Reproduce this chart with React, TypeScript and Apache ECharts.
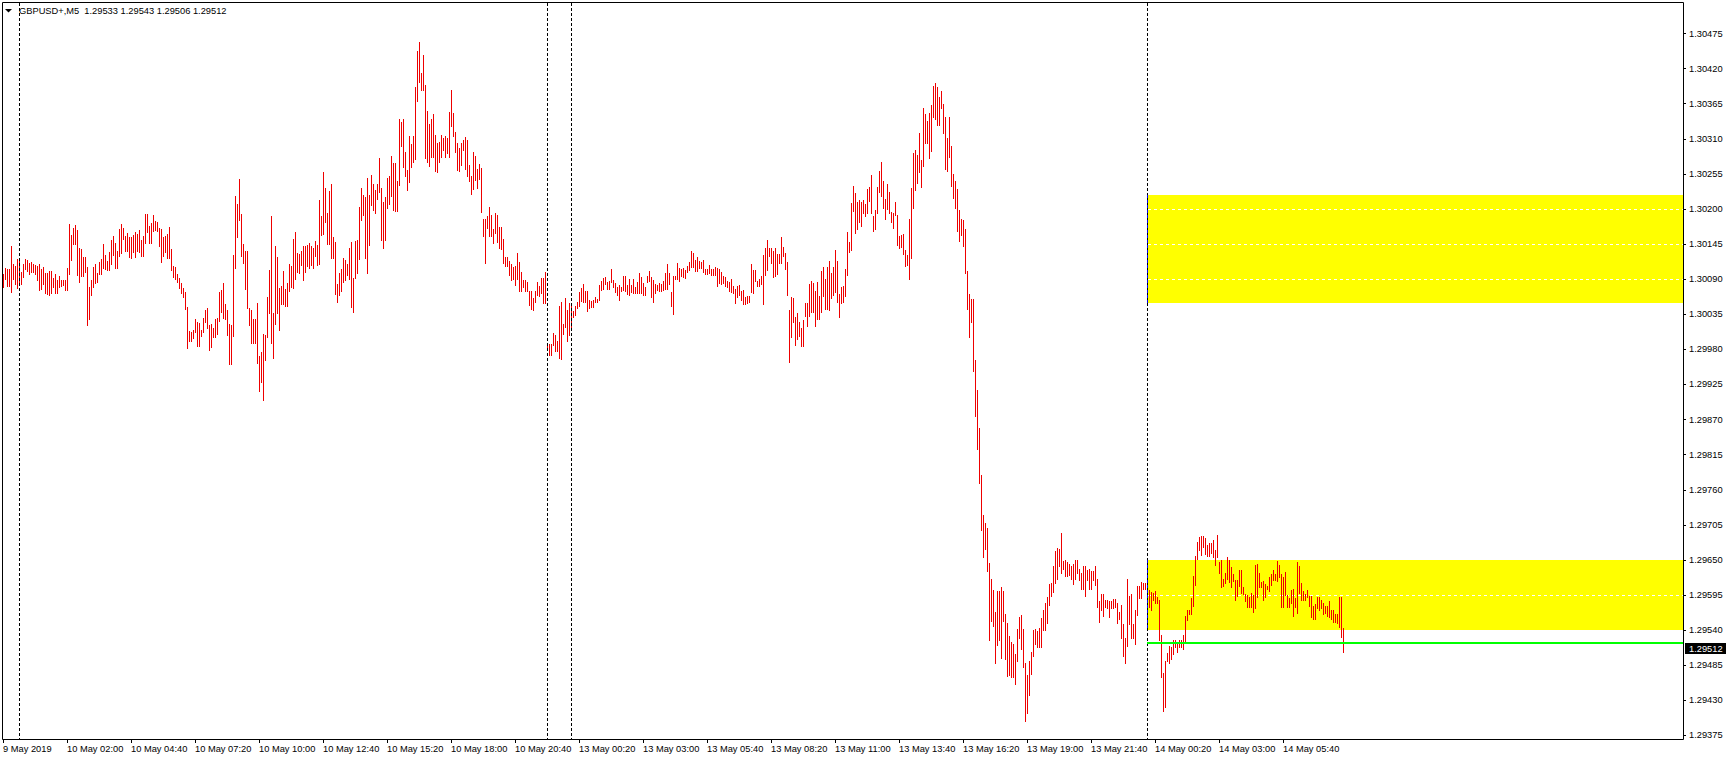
import React, { useEffect, useRef } from "react";
import * as echarts from "echarts";

// ---- chart meta ----
const symbolTitle = "GBPUSD+,M5";
const lastBarOHLC = [1.29533, 1.29543, 1.29506, 1.29512];
const bidPrice = 1.29512;
const greenLevel = 1.2952;
// zones: [startBar, top price, bottom price]
const zoneStartBar = 572;
const upperZone = [1.30222, 1.30052];
const lowerZone = [1.2965, 1.29541];
// daily period separators (bar index)
const separatorBars = [8, 272, 284, 572];

const priceTicks = [
  1.29375, 1.2943, 1.29485, 1.2954, 1.29595, 1.2965, 1.29705, 1.2976, 1.29815, 1.2987, 1.29925,
  1.2998, 1.30035, 1.3009, 1.30145, 1.302, 1.30255, 1.3031, 1.30365, 1.3042, 1.30475,
];
const timeTickBars = [0, 32, 64, 96, 128, 160, 192, 224, 256, 288, 320, 352, 384, 416, 448, 480, 512, 544, 576, 608, 640];
const timeTickLabels = [
  "9 May 2019", "10 May 02:00", "10 May 04:40", "10 May 07:20", "10 May 10:00", "10 May 12:40",
  "10 May 15:20", "10 May 18:00", "10 May 20:40", "13 May 00:20", "13 May 03:00", "13 May 05:40",
  "13 May 08:20", "13 May 11:00", "13 May 13:40", "13 May 16:20", "13 May 19:00", "13 May 21:40",
  "14 May 00:20", "14 May 03:00", "14 May 05:40",
];

// ---- M5 bars: highs / lows per trading day ----
const high9 = [1.30098, 1.30108, 1.30106, 1.30106, 1.30142, 1.30114, 1.3011, 1.30121];
const low9 = [1.30078, 1.3009, 1.3008, 1.3008, 1.3007, 1.30091, 1.30082, 1.30076];

const high10 = [
  1.30121, 1.30101, 1.30114, 1.30121, 1.3012, 1.30115, 1.30117, 1.30114, 1.30112, 1.3011,
  1.30114, 1.30106, 1.30109, 1.301, 1.301, 1.30103, 1.30103, 1.30092, 1.30098, 1.30089,
  1.30095, 1.30089, 1.30089, 1.30089, 1.30107, 1.30176, 1.30159, 1.3017, 1.30175, 1.30167,
  1.30139, 1.30137, 1.30125, 1.30125, 1.30109, 1.30078, 1.30089, 1.30109, 1.30114, 1.301,
  1.30117, 1.30121, 1.30145, 1.30128, 1.30118, 1.30133, 1.30151, 1.30158, 1.30147, 1.30134,
  1.30169, 1.30176, 1.3017, 1.30158, 1.30162, 1.30156, 1.30156, 1.30159, 1.30164, 1.30161,
  1.30167, 1.30151, 1.30158, 1.30192, 1.30192, 1.30173, 1.30178, 1.3019, 1.30181, 1.30179,
  1.3017, 1.30169, 1.30156, 1.30158, 1.30161, 1.30172, 1.30137, 1.3011, 1.30109, 1.30098,
  1.30092, 1.30084, 1.30076, 1.3007, 1.30046, 1.30009, 1.30008, 1.3001, 1.30028, 1.30023,
  1.30021, 1.3001, 1.30029, 1.30042, 1.30045, 1.30018, 1.3002, 1.30014, 1.30028, 1.30029,
  1.3007, 1.30073, 1.30084, 1.30051, 1.30042, 1.3002, 1.30019, 1.30128, 1.3022, 1.30208,
  1.30247, 1.30192, 1.30145, 1.30134, 1.30134, 1.30045, 1.30042, 1.30028, 1.30028, 1.30053,
  1.2997, 1.29976, 1.30004, 1.30003, 1.30062, 1.30104, 1.30189, 1.30037, 1.30142, 1.30125,
  1.30076, 1.30079, 1.30103, 1.30075, 1.30084, 1.30114, 1.3011, 1.30153, 1.30164, 1.30131,
  1.30129, 1.30134, 1.30142, 1.30142, 1.30144, 1.30147, 1.30142, 1.30139, 1.3015, 1.30144,
  1.30214, 1.30189, 1.30258, 1.30233, 1.30194, 1.30228, 1.30239, 1.30156, 1.30148, 1.30083,
  1.301, 1.30106, 1.30123, 1.3012, 1.30114, 1.30139, 1.30148, 1.30092, 1.3015, 1.30151,
  1.30203, 1.30233, 1.30222, 1.30219, 1.30249, 1.30222, 1.30253, 1.30239, 1.3023, 1.30239,
  1.3028, 1.30233, 1.30211, 1.30219, 1.30249, 1.30252, 1.30283, 1.30272, 1.30272, 1.30244,
  1.30341, 1.30336, 1.30341, 1.30289, 1.30261, 1.30314, 1.30302, 1.30314, 1.30391, 1.30447,
  1.30461, 1.30413, 1.30441, 1.30394, 1.30353, 1.30333, 1.30341, 1.30349, 1.30316, 1.30303,
  1.30305, 1.30316, 1.30311, 1.30314, 1.30311, 1.30352, 1.30386, 1.3035, 1.3032, 1.30303,
  1.30295, 1.30303, 1.30308, 1.30313, 1.30308, 1.30269, 1.30252, 1.30289, 1.30283, 1.30263,
  1.30271, 1.30265, 1.30184, 1.30184, 1.30189, 1.30203, 1.30191, 1.30169, 1.30194, 1.30191,
  1.30172, 1.30172, 1.30153, 1.30125, 1.30125, 1.30119, 1.30114, 1.30109, 1.30111, 1.30131,
  1.30117, 1.30101, 1.30089, 1.30089, 1.30085, 1.30071, 1.30071, 1.3006, 1.30072, 1.30085,
  1.3008, 1.30092, 1.30092, 1.30102,
];
const low10 = [
  1.30083, 1.30082, 1.30093, 1.30106, 1.30103, 1.30098, 1.30101, 1.30101, 1.30098, 1.30088,
  1.30073, 1.30075, 1.30082, 1.30069, 1.30067, 1.30066, 1.30069, 1.30078, 1.30069, 1.30069,
  1.30077, 1.3008, 1.30081, 1.30073, 1.30073, 1.30098, 1.3012, 1.30145, 1.30145, 1.30097,
  1.30086, 1.30095, 1.30095, 1.30102, 1.30019, 1.30027, 1.30066, 1.30077, 1.30084, 1.30086,
  1.30098, 1.30098, 1.30107, 1.30106, 1.30104, 1.30104, 1.30114, 1.30128, 1.30108, 1.30108,
  1.30126, 1.30131, 1.30153, 1.30134, 1.30134, 1.30125, 1.30123, 1.30133, 1.30125, 1.30134,
  1.30133, 1.30126, 1.30126, 1.30147, 1.30164, 1.30147, 1.30147, 1.30165, 1.30167, 1.30165,
  1.30142, 1.30117, 1.30126, 1.30133, 1.30123, 1.30123, 1.30104, 1.30093, 1.3009, 1.30086,
  1.30076, 1.30069, 1.30062, 1.30043, 1.29982, 1.29993, 1.29993, 1.29998, 1.30007, 1.29986,
  1.29986, 1.30001, 1.30007, 1.30023, 1.30014, 1.29979, 1.29984, 1.29999, 1.29999, 1.30004,
  1.30024, 1.30039, 1.30029, 1.30028, 1.30003, 1.29957, 1.29957, 1.30001, 1.30107, 1.30156,
  1.30183, 1.30126, 1.30116, 1.30075, 1.30045, 1.30018, 1.2999, 1.2999, 1.2999, 1.29959,
  1.29915, 1.29929, 1.29901, 1.29963, 1.29999, 1.30037, 1.2999, 1.29967, 1.3002, 1.30037,
  1.3001, 1.30051, 1.30051, 1.30048, 1.30048, 1.30071, 1.30078, 1.30076, 1.3009, 1.30101,
  1.30099, 1.30113, 1.30089, 1.30101, 1.3011, 1.30108, 1.30113, 1.30108, 1.30127, 1.30113,
  1.30114, 1.30159, 1.30161, 1.3018, 1.30145, 1.30145, 1.30124, 1.30124, 1.30067, 1.30055,
  1.30066, 1.30072, 1.30086, 1.30088, 1.30097, 1.30091, 1.30047, 1.30039, 1.30092, 1.30099,
  1.30121, 1.30182, 1.3019, 1.30124, 1.30099, 1.30144, 1.30207, 1.30199, 1.30194, 1.30216,
  1.30227, 1.30152, 1.30139, 1.30152, 1.30202, 1.30208, 1.30221, 1.30199, 1.30197, 1.30197,
  1.30238, 1.30299, 1.30266, 1.30252, 1.3023, 1.30243, 1.30266, 1.30274, 1.30279, 1.3037,
  1.30399, 1.30387, 1.30387, 1.3028, 1.30274, 1.30268, 1.30282, 1.30282, 1.3026, 1.30258,
  1.30273, 1.30282, 1.30293, 1.30282, 1.30287, 1.30282, 1.3033, 1.30315, 1.3029, 1.30261,
  1.3026, 1.30269, 1.30293, 1.30263, 1.30251, 1.30244, 1.30224, 1.30232, 1.30246, 1.30233,
  1.30247, 1.30196, 1.30157, 1.30116, 1.30171, 1.30157, 1.30157, 1.30147, 1.30163, 1.30149,
  1.30139, 1.30138, 1.30116, 1.3011, 1.30111, 1.30097, 1.30089, 1.30091, 1.30081, 1.30091,
  1.30072, 1.30072, 1.30078, 1.30072, 1.30072, 1.3005, 1.30044, 1.30042, 1.30055, 1.30066,
  1.30063, 1.30069, 1.30052, 1.30052,
];

const high12 = [1.2999, 1.29988, 1.29988, 1.30006, 1.30002, 1.29993, 1.30048, 1.30054, 1.3002, 1.3006, 1.30042, 1.30053];
const low12 = [1.29982, 1.29971, 1.29971, 1.29987, 1.29977, 1.29977, 1.29966, 1.29965, 1.30004, 1.30015, 1.29993, 1.30002];

const high13 = [
  1.30048, 1.3004, 1.30048, 1.30054, 1.3007, 1.30076, 1.30082, 1.30071, 1.30071, 1.30057,
  1.30056, 1.30057, 1.30062, 1.30059, 1.30081, 1.30087, 1.30092, 1.30093, 1.30085, 1.30087,
  1.30106, 1.30089, 1.30084, 1.30077, 1.30081, 1.30077, 1.30095, 1.30095, 1.30081, 1.3009,
  1.30081, 1.3009, 1.30077, 1.30085, 1.301, 1.30093, 1.30084, 1.30077, 1.30095, 1.30103,
  1.30093, 1.30089, 1.30082, 1.30081, 1.30084, 1.30082, 1.30087, 1.301, 1.30114, 1.301,
  1.3007, 1.30095, 1.30095, 1.30115, 1.30107, 1.30106, 1.30107, 1.30104, 1.3011, 1.30117,
  1.30134, 1.30131, 1.3012, 1.30125, 1.30118, 1.30117, 1.3012, 1.30106, 1.30106, 1.30112,
  1.30106, 1.30106, 1.30109, 1.30107, 1.30106, 1.30101, 1.30095, 1.30093, 1.30087, 1.30085,
  1.3009, 1.30079, 1.30074, 1.30079, 1.30081, 1.30071, 1.30073, 1.30062, 1.30063, 1.30063,
  1.30114, 1.30104, 1.30104, 1.30087, 1.3009, 1.30095, 1.30128, 1.30139, 1.30151, 1.30139,
  1.30139, 1.30134, 1.30139, 1.30129, 1.30129, 1.30156, 1.3014, 1.30131, 1.30117, 1.30041,
  1.30062, 1.3006, 1.30031, 1.30037, 1.30023, 1.30013, 1.30026, 1.30053, 1.30053, 1.30082,
  1.30087, 1.30084, 1.30072, 1.30086, 1.30064, 1.30103, 1.30109, 1.3009, 1.30109, 1.30118,
  1.301, 1.30109, 1.30136, 1.30118, 1.30067, 1.30078, 1.30079, 1.30106, 1.30164, 1.30148,
  1.30209, 1.30236, 1.30225, 1.30211, 1.30214, 1.30211, 1.30214, 1.30208, 1.30231, 1.30234,
  1.30253, 1.30189, 1.30199, 1.30234, 1.30259, 1.30274, 1.30244, 1.30216, 1.30239, 1.30227,
  1.30195, 1.30194, 1.30211, 1.30191, 1.30158, 1.3016, 1.30161, 1.30135, 1.30128, 1.30185,
  1.30233, 1.30288, 1.30292, 1.30284, 1.30319, 1.30277, 1.30358, 1.30349, 1.30338, 1.3035,
  1.30363, 1.30392, 1.30397, 1.30391, 1.30375, 1.30385, 1.30364, 1.30344, 1.30311, 1.30344,
  1.30299, 1.30255, 1.30244, 1.30231, 1.30198, 1.30185, 1.30183, 1.30168, 1.30103, 1.30067,
  1.30059, 1.30059, 1.29964, 1.29916, 1.29857, 1.29783, 1.2972, 1.29708, 1.297, 1.29645,
  1.2962, 1.29603, 1.29569, 1.29601, 1.29601, 1.29608, 1.29601, 1.29565, 1.29551, 1.29531,
  1.29521, 1.29519, 1.29503, 1.29542, 1.29561, 1.29564, 1.29542, 1.29489, 1.2947, 1.29491,
  1.29506, 1.2954, 1.29542, 1.29539, 1.29543, 1.29559, 1.29572, 1.29583, 1.29592, 1.29612,
  1.29614, 1.29641, 1.29664, 1.29669, 1.29667, 1.29692, 1.29649, 1.2965, 1.29647, 1.29643,
  1.29641, 1.29643, 1.2965, 1.2965, 1.29636, 1.29629, 1.2964, 1.2964, 1.29635, 1.29636,
  1.29632, 1.29632, 1.2964, 1.29621, 1.29586, 1.29596, 1.29597, 1.29588, 1.29588, 1.29586,
  1.29585, 1.29589, 1.29589, 1.29582, 1.29569, 1.2958, 1.2955, 1.29528, 1.29621, 1.29594,
  1.29596, 1.29549, 1.29571, 1.2961, 1.2961, 1.29616, 1.29614, 1.29614,
];
const low13 = [
  1.3001, 1.30031, 1.30034, 1.30045, 1.30048, 1.30056, 1.30054, 1.30054, 1.3004, 1.30045,
  1.30046, 1.30046, 1.30054, 1.30054, 1.30057, 1.30073, 1.30074, 1.30082, 1.30074, 1.30074,
  1.30085, 1.30078, 1.3007, 1.30065, 1.30057, 1.30071, 1.30073, 1.30071, 1.30067, 1.30065,
  1.3007, 1.30068, 1.30068, 1.30068, 1.30068, 1.30068, 1.30065, 1.30065, 1.30085, 1.30087,
  1.30062, 1.30054, 1.30068, 1.30073, 1.30071, 1.30071, 1.30073, 1.30074, 1.30074, 1.30082,
  1.30048, 1.30035, 1.3009, 1.3009, 1.30087, 1.30095, 1.30093, 1.30092, 1.30101, 1.30104,
  1.30109, 1.30109, 1.30103, 1.30103, 1.30107, 1.30107, 1.30101, 1.30098, 1.30098, 1.30099,
  1.30096, 1.30096, 1.30096, 1.30079, 1.30084, 1.30082, 1.30084, 1.30079, 1.30077, 1.30071,
  1.3007, 1.30068, 1.30053, 1.30062, 1.30066, 1.30057, 1.30051, 1.30051, 1.30053, 1.30054,
  1.3007, 1.30068, 1.30087, 1.30079, 1.30079, 1.30082, 1.30051, 1.30096, 1.30104, 1.30126,
  1.30115, 1.30093, 1.30095, 1.30098, 1.30115, 1.30115, 1.30126, 1.30106, 1.30066, 1.2996,
  1.29999, 1.30023, 1.29987, 1.29996, 1.30001, 1.29985, 1.29985, 1.30032, 1.30017, 1.30033,
  1.30038, 1.30039, 1.30017, 1.30027, 1.30027, 1.30038, 1.30063, 1.30044, 1.30044, 1.30042,
  1.30061, 1.30066, 1.3007, 1.30055, 1.30031, 1.30052, 1.30055, 1.30064, 1.30097, 1.30133,
  1.30135, 1.30197, 1.30163, 1.30168, 1.3018, 1.30174, 1.30194, 1.30189, 1.30193, 1.30213,
  1.30193, 1.30166, 1.30169, 1.30194, 1.30227, 1.30221, 1.30202, 1.30185, 1.302, 1.30193,
  1.3018, 1.30171, 1.30191, 1.30144, 1.30139, 1.30141, 1.3013, 1.3011, 1.30113, 1.30091,
  1.30124, 1.30202, 1.3023, 1.30241, 1.30258, 1.30235, 1.30268, 1.30304, 1.30304, 1.3028,
  1.30291, 1.30344, 1.30341, 1.30332, 1.30332, 1.30359, 1.30319, 1.30263, 1.3026, 1.30282,
  1.30236, 1.30218, 1.30202, 1.30166, 1.3015, 1.3016, 1.30142, 1.30099, 1.30044, 1.3,
  1.30023, 1.29946, 1.29875, 1.29824, 1.2977, 1.29697, 1.29654, 1.29668, 1.29633, 1.29524,
  1.29555, 1.29547, 1.29489, 1.29517, 1.29525, 1.29497, 1.29554, 1.29495, 1.29469, 1.2947,
  1.29467, 1.29467, 1.29455, 1.29491, 1.29527, 1.29511, 1.29483, 1.29398, 1.29411, 1.29439,
  1.29472, 1.29499, 1.29519, 1.29513, 1.29514, 1.29514, 1.2954, 1.2954, 1.29551, 1.29579,
  1.29594, 1.296, 1.29614, 1.29621, 1.2964, 1.2963, 1.29636, 1.29625, 1.29625, 1.29627,
  1.29621, 1.29613, 1.29621, 1.2963, 1.29619, 1.29605, 1.29605, 1.29594, 1.29618, 1.29605,
  1.29605, 1.29618, 1.29611, 1.29577, 1.29553, 1.29571, 1.29563, 1.29577, 1.29575, 1.29561,
  1.29575, 1.29575, 1.29577, 1.29552, 1.29557, 1.29528, 1.295, 1.29489, 1.29516, 1.2955,
  1.29528, 1.29527, 1.29519, 1.29564, 1.29591, 1.29591, 1.29605, 1.29604,
];

const high14 = [
  1.29602, 1.29603, 1.296, 1.29599, 1.29601, 1.29592, 1.29588, 1.29533, 1.29473, 1.29492,
  1.29505, 1.29516, 1.29513, 1.29524, 1.29524, 1.29522, 1.29524, 1.29524, 1.29532, 1.29562,
  1.29572, 1.29571, 1.29591, 1.29625, 1.29656, 1.29678, 1.29686, 1.29687, 1.29687, 1.29685,
  1.29673, 1.29676, 1.29676, 1.29681, 1.29666, 1.29689, 1.29647, 1.2965, 1.29621, 1.2963,
  1.29654, 1.2965, 1.29639, 1.29628, 1.29618, 1.29618, 1.29634, 1.29634, 1.29608, 1.29597,
  1.29595, 1.29592, 1.29598, 1.29595, 1.29642, 1.29644, 1.29629, 1.29616, 1.29617, 1.29613,
  1.29609, 1.29624, 1.29628, 1.29634, 1.29628, 1.29648, 1.29642, 1.29628, 1.29624, 1.29631,
  1.29595, 1.2959, 1.29603, 1.29605, 1.2959, 1.29647, 1.2964, 1.29614, 1.29602, 1.29597,
  1.29603, 1.29593, 1.29593, 1.29578, 1.29581, 1.29592, 1.29592, 1.29587, 1.29583, 1.29578,
  1.29578, 1.29585, 1.29571, 1.29572, 1.29566, 1.29565, 1.29592, 1.29592, 1.29543,
];
const low14 = [
  1.29586, 1.29577, 1.29571, 1.29587, 1.29582, 1.29582, 1.29524, 1.29467, 1.29414, 1.2942,
  1.29491, 1.29489, 1.29495, 1.29502, 1.29514, 1.29506, 1.29514, 1.29514, 1.2951, 1.29523,
  1.29556, 1.29566, 1.29566, 1.29578, 1.29611, 1.29652, 1.29666, 1.29658, 1.29671, 1.29659,
  1.29656, 1.29656, 1.29661, 1.29654, 1.29642, 1.29655, 1.2963, 1.29608, 1.29609, 1.29614,
  1.2962, 1.29616, 1.29608, 1.29617, 1.29588, 1.29593, 1.29609, 1.29598, 1.29597, 1.29585,
  1.29577, 1.29577, 1.29577, 1.29569, 1.29574, 1.29592, 1.29607, 1.29607, 1.29588, 1.29592,
  1.29605, 1.29602, 1.29611, 1.29618, 1.29619, 1.29617, 1.29624, 1.29576, 1.29576, 1.29595,
  1.29576, 1.29576, 1.29582, 1.29562, 1.29576, 1.29567, 1.29598, 1.29587, 1.29588, 1.29587,
  1.29592, 1.29578, 1.2956, 1.29557, 1.29557, 1.29574, 1.29572, 1.29574, 1.29566, 1.29567,
  1.29562, 1.29561, 1.29558, 1.29553, 1.29553, 1.29552, 1.29545, 1.2953, 1.29506,
];

const highs = [...high9, ...high10, ...high12, ...high13, ...high14];
const lows = [...low9, ...low10, ...low12, ...low13, ...low14];
const barData = highs.map((h, i) => [i, h, lows[i]]);

const Y_MIN = 1.293695;
const Y_MAX = 1.305228;
const X_MAX = 840;
const FONT = "'Liberation Sans', Arial, sans-serif";
const FS = 9.3;
const BAR_COLOR = "#ee0000";
const ZONE_COLOR = "#ffff00";

export default function App() {
  const ref = useRef<HTMLDivElement>(null);

  useEffect(() => {
    document.body.style.margin = "0";
    const chart = echarts.init(ref.current!, null, { renderer: "svg" });
    const zones = [
      [zoneStartBar, upperZone[0], upperZone[1]],
      [zoneStartBar, lowerZone[0], lowerZone[1]],
    ];
    const headerText =
      symbolTitle + "  " + lastBarOHLC.map((v) => v.toFixed(5)).join(" ");

    chart.setOption({
      animation: false,
      backgroundColor: "#ffffff",
      textStyle: { fontFamily: FONT },
      grid: { left: 3, right: 46, top: 3, bottom: 21, show: false },
      xAxis: {
        type: "value",
        min: 0,
        max: X_MAX,
        axisLine: { show: false, onZero: false },
        splitLine: { show: false },
        axisTick: {
          show: true,
          customValues: timeTickBars,
          length: 4,
          lineStyle: { color: "#000", width: 1 },
        },
        axisLabel: {
          customValues: timeTickBars,
          formatter: (v: number) => timeTickLabels[timeTickBars.indexOf(v)] ?? "",
          align: "left",
          margin: 5,
          color: "#000",
          fontSize: FS,
          fontFamily: FONT,
        },
      },
      yAxis: {
        type: "value",
        position: "right",
        min: Y_MIN,
        max: Y_MAX,
        axisLine: { show: false, onZero: false },
        splitLine: { show: false },
        axisTick: {
          show: true,
          customValues: priceTicks,
          length: 3,
          lineStyle: { color: "#000", width: 1 },
        },
        axisLabel: {
          customValues: priceTicks,
          formatter: (v: number) => v.toFixed(5),
          margin: 6,
          color: "#000",
          fontSize: FS,
          fontFamily: FONT,
        },
      },
      graphic: [
        {
          type: "rect",
          z: 100,
          shape: { x: 2.5, y: 2.5, width: 1681, height: 737 },
          style: { fill: "none", stroke: "#000", lineWidth: 1 },
          silent: true,
        },
        {
          type: "polygon",
          z: 100,
          shape: { points: [[5, 9], [12, 9], [8.5, 12.5]] },
          style: { fill: "#000" },
        },
        {
          type: "text",
          z: 100,
          x: 19,
          y: 11,
          style: {
            text: headerText,
            fill: "#000",
            font: `${FS}px ${FONT}`,
            verticalAlign: "middle",
            align: "left",
          },
        },
      ],
      series: [
        {
          name: "zones",
          type: "custom",
          z: 1,
          silent: true,
          data: zones,
          renderItem: (params: any, api: any) => {
            const p1 = api.coord([api.value(0), api.value(1)]);
            const p2 = api.coord([X_MAX, api.value(2)]);
            const cs = params.coordSys;
            return {
              type: "rect",
              shape: {
                x: Math.round(p1[0]),
                y: Math.round(p1[1]),
                width: cs.x + cs.width - Math.round(p1[0]),
                height: Math.round(p2[1]) - Math.round(p1[1]),
              },
              style: { fill: ZONE_COLOR },
            };
          },
        },
        {
          // white dotted price grid (only visible over the yellow zones)
          name: "grid",
          type: "custom",
          z: 2,
          silent: true,
          data: priceTicks.map((p) => [zoneStartBar, p]),
          renderItem: (params: any, api: any) => {
            const cs = params.coordSys;
            const p = api.coord([api.value(0), api.value(1)]);
            const y = Math.floor(p[1]) + 0.5;
            return {
              type: "line",
              shape: { x1: Math.round(p[0]) + 1, y1: y, x2: cs.x + cs.width, y2: y },
              style: { stroke: "#ffffff", lineWidth: 1, lineDash: [3, 3] },
            };
          },
        },
        {
          name: "bars",
          type: "custom",
          z: 4,
          silent: true,
          data: barData,
          encode: { x: 0, y: [1, 2] },
          renderItem: (_params: any, api: any) => {
            const i = api.value(0);
            const top = api.coord([i, api.value(1)]);
            const bot = api.coord([i, api.value(2)]);
            const y1 = Math.round(top[1]);
            const y2 = Math.round(bot[1]);
            return {
              type: "rect",
              shape: { x: Math.round(top[0]), y: y1, width: 1, height: Math.max(1, y2 - y1 + 1) },
              style: { fill: BAR_COLOR },
            };
          },
        },
        {
          name: "separators",
          type: "custom",
          z: 5,
          silent: true,
          data: separatorBars.map((b) => [b]),
          renderItem: (params: any, api: any) => {
            const cs = params.coordSys;
            const x = Math.round(api.coord([api.value(0), Y_MIN])[0]) + 0.5;
            return {
              type: "line",
              shape: { x1: x, y1: cs.y, x2: x, y2: cs.y + cs.height },
              style: { stroke: "#000", lineWidth: 1, lineDash: [3, 2] },
            };
          },
        },
        {
          name: "separatorOnZones",
          type: "custom",
          z: 6,
          silent: true,
          data: zones,
          renderItem: (_params: any, api: any) => {
            const p1 = api.coord([api.value(0), api.value(1)]);
            const p2 = api.coord([api.value(0), api.value(2)]);
            const x = Math.round(p1[0]) + 0.5;
            return {
              type: "line",
              shape: { x1: x, y1: Math.round(p1[1]), x2: x, y2: Math.round(p2[1]) },
              style: { stroke: "#0000ff", lineWidth: 1, lineDash: [3, 2] },
            };
          },
        },
        {
          name: "level",
          type: "custom",
          z: 7,
          silent: true,
          data: [[zoneStartBar, greenLevel]],
          renderItem: (params: any, api: any) => {
            const cs = params.coordSys;
            const p = api.coord([api.value(0), api.value(1)]);
            const y = Math.round(p[1]);
            return {
              type: "line",
              shape: { x1: Math.round(p[0]), y1: y, x2: cs.x + cs.width, y2: y },
              style: { stroke: "#00ff00", lineWidth: 2 },
            };
          },
        },
        {
          name: "bid",
          type: "custom",
          z: 8,
          silent: true,
          clip: false,
          data: [[0, bidPrice]],
          renderItem: (params: any, api: any) => {
            const cs = params.coordSys;
            const y = Math.round(api.coord([0, api.value(1)])[1]);
            const x0 = cs.x + cs.width + 2;
            return {
              type: "group",
              children: [
                {
                  type: "rect",
                  shape: { x: x0, y: y - 5, width: 41, height: 11 },
                  style: { fill: "#000" },
                },
                {
                  type: "text",
                  x: x0 + 4,
                  y: y + 0.5,
                  style: {
                    text: bidPrice.toFixed(5),
                    fill: "#fff",
                    font: `${FS}px ${FONT}`,
                    verticalAlign: "middle",
                    align: "left",
                  },
                },
              ],
            };
          },
        },
      ],
    });
    return () => chart.dispose();
  }, []);

  return <div ref={ref} style={{ width: 1729, height: 760 }} />;
}
